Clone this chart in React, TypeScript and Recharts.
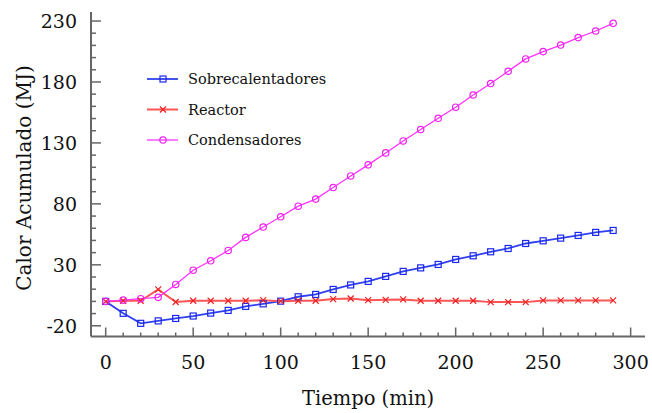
import { Legend, Line, LineChart, XAxis, YAxis } from 'recharts';

const tiempo = [0, 10, 20, 30, 40, 50, 60, 70, 80, 90, 100, 110, 120, 130, 140, 150, 160, 170, 180, 190, 200, 210, 220, 230, 240, 250, 260, 270, 280, 290];
const sobrecalentadores = [0, -9.8, -18, -16, -14, -12, -9.6, -7.4, -4.1, -2, 0.2, 3.8, 5.7, 9.8, 13.5, 16.4, 20.5, 24.6, 27.5, 30.3, 34.4, 37.4, 40.7, 43.4, 47.5, 49.7, 51.9, 54.1, 56.6, 58.2];
const reactor = [0, 0.5, 0.5, 9.8, -0.5, 0.5, 0.5, 0.5, 0.5, 1, 0.2, 0.5, 0.5, 1.9, 2.4, 1, 1.3, 1.6, 0.5, 0.5, 0.5, 0.5, -0.6, -0.6, -0.6, 0.8, 0.8, 0.8, 0.8, 0.8];
const condensadores = [0, 1, 2.2, 3.3, 13.9, 25.6, 33.3, 41.8, 52.5, 61, 69.4, 78.1, 83.9, 93.4, 102.9, 112, 121.8, 131.6, 141, 150.2, 159.3, 169.3, 178.7, 188.8, 198.9, 204.9, 210.3, 216.4, 221.8, 228.1];

const xTicks = [0, 10, 20, 30, 40, 50, 60, 70, 80, 90, 100, 110, 120, 130, 140, 150, 160, 170, 180, 190, 200, 210, 220, 230, 240, 250, 260, 270, 280, 290, 300];
const yTicks = [-20, -10, 0, 10, 20, 30, 40, 50, 60, 70, 80, 90, 100, 110, 120, 130, 140, 150, 160, 170, 180, 190, 200, 210, 220, 230];

const FRAME = '#666';
const SERIF = 'DejaVu Serif';

const data = tiempo.map((t, i) => ({
  t,
  sob: sobrecalentadores[i],
  reac: reactor[i],
  cond: condensadores[i],
}));

const series = [
  { key: 'sob', name: 'Sobrecalentadores', line: '#3040f0', mark: '#1a28ee', width: 1.8, shape: 'square' },
  { key: 'reac', name: 'Reactor', line: '#ff5555', mark: '#ee2222', width: 2, shape: 'cross' },
  { key: 'cond', name: 'Condensadores', line: '#ff33ff', mark: '#ee22ee', width: 1.3, shape: 'circle' },
];

function Marker({ shape, x, y, color }: { shape: string; x: number; y: number; color: string }) {
  if (shape === 'square') {
    return <rect x={x - 3} y={y - 3} width={6} height={6} fill='none' stroke={color} strokeWidth={1.2} />;
  }
  if (shape === 'cross') {
    return (
      <path d={`M${x - 3},${y - 3}L${x + 3},${y + 3}M${x - 3},${y + 3}L${x + 3},${y - 3}`} stroke={color} strokeWidth={1.2} />
    );
  }
  return <circle cx={x} cy={y} r={3.2} fill='none' stroke={color} strokeWidth={1.2} />;
}

const makeDot = (shape: string, color: string) => (props: any) => (
  <Marker key={`${shape}-${props.index}`} shape={shape} x={props.cx} y={props.cy} color={color} />
);

const isMajorX = (v: number) => v % 50 === 0;
const isMajorY = (v: number) => (v + 20) % 50 === 0;

function Label({ children, ...rest }: any) {
  return (
    <text fill='#111' fontFamily={SERIF} style={{ fontFamily: SERIF }} {...rest}>
      {children}
    </text>
  );
}

function BottomTick({ x, y, payload }: any) {
  const major = isMajorX(payload.value);
  return (
    <g>
      <line x1={x} x2={x} y1={y} y2={y - (major ? 9 : 4)} stroke={FRAME} strokeWidth={1.5} />
      {major && (
        <Label x={x} y={y + 32} textAnchor='middle' fontSize={19}>
          {payload.value}
        </Label>
      )}
    </g>
  );
}

function TopTick({ x, y, payload }: any) {
  const major = isMajorX(payload.value);
  return <line x1={x} x2={x} y1={y} y2={y + (major ? 9 : 4)} stroke={FRAME} strokeWidth={1.5} />;
}

function LeftTick({ x, y, payload }: any) {
  const major = isMajorY(payload.value);
  return (
    <g>
      <line x1={x} x2={x + (major ? 10 : 5)} y1={y} y2={y} stroke={FRAME} strokeWidth={1.5} />
      {major && (
        <Label x={x - 14} y={y + 7} textAnchor='end' fontSize={19}>
          {payload.value}
        </Label>
      )}
    </g>
  );
}

function RightTick({ x, y, payload }: any) {
  const major = isMajorY(payload.value);
  return <line x1={x} x2={x - (major ? 10 : 5)} y1={y} y2={y} stroke={FRAME} strokeWidth={1.5} />;
}

function LegendBox() {
  return (
    <svg width={220} height={100}>
      {series.map((s, i) => {
        const cy = 17 + i * 30.5;
        return (
          <g key={s.key}>
            <line x1={7} x2={38} y1={cy} y2={cy} stroke={s.line} strokeWidth={s.width} />
            <Marker shape={s.shape} x={23} y={cy} color={s.mark} />
            <Label x={48} y={cy + 5} fontSize={14.5}>
              {s.name}
            </Label>
          </g>
        );
      })}
    </svg>
  );
}

export default function App() {
  return (
    <div style={{ position: 'absolute', left: 0, top: 0, width: 652, height: 413, background: '#fff', fontFamily: SERIF }}>
      <LineChart
        width={652}
        height={413}
        data={data}
        margin={{ top: 12, right: 7, bottom: 6.5, left: 11 }}
      >
        <XAxis
          xAxisId='b'
          dataKey='t'
          type='number'
          domain={[-8.4, 308.2]}
          ticks={xTicks}
          interval={0}
          allowDataOverflow
          height={70}
          tickSize={0}
          tickMargin={0}
          tickLine={false}
          axisLine={{ stroke: FRAME, strokeWidth: 2 }}
          tick={<BottomTick />}
          label={{
            content: () => (
              <Label x={368} y={405} textAnchor='middle' fontSize={19.5}>
                Tiempo (min)
              </Label>
            ),
          }}
        />
        <XAxis
          xAxisId='t'
          orientation='top'
          dataKey='t'
          type='number'
          domain={[-8.4, 308.2]}
          ticks={xTicks}
          interval={0}
          allowDataOverflow
          height={0}
          tickSize={0}
          tickMargin={0}
          tickLine={false}
          axisLine={{ stroke: FRAME, strokeWidth: 2 }}
          tick={<TopTick />}
        />
        <YAxis
          yAxisId='l'
          type='number'
          domain={[-28.8, 237.4]}
          ticks={yTicks}
          interval={0}
          allowDataOverflow
          width={80}
          tickSize={0}
          tickMargin={0}
          tickLine={false}
          axisLine={{ stroke: FRAME, strokeWidth: 2 }}
          tick={<LeftTick />}
          label={{
            content: () => (
              <Label x={0} y={0} transform='translate(31 178) rotate(-90)' textAnchor='middle' fontSize={20}>
                Calor Acumulado (MJ)
              </Label>
            ),
          }}
        />
        <YAxis
          yAxisId='r'
          orientation='right'
          type='number'
          domain={[-28.8, 237.4]}
          ticks={yTicks}
          interval={0}
          allowDataOverflow
          width={0}
          tickSize={0}
          tickMargin={0}
          tickLine={false}
          axisLine={{ stroke: FRAME, strokeWidth: 2 }}
          tick={<RightTick />}
        />
        {series.map(s => (
          <Line
            key={s.key}
            xAxisId='b'
            yAxisId='l'
            type='linear'
            dataKey={s.key}
            name={s.name}
            stroke={s.line}
            strokeWidth={s.width}
            dot={makeDot(s.shape, s.mark)}
            activeDot={false}
            isAnimationActive={false}
          />
        ))}
        <Legend
          verticalAlign='middle'
          align='center'
          layout='horizontal'
          wrapperStyle={{ left: 140, top: 62, width: 220, height: 100 }}
          content={() => <LegendBox />}
        />
      </LineChart>
    </div>
  );
}
